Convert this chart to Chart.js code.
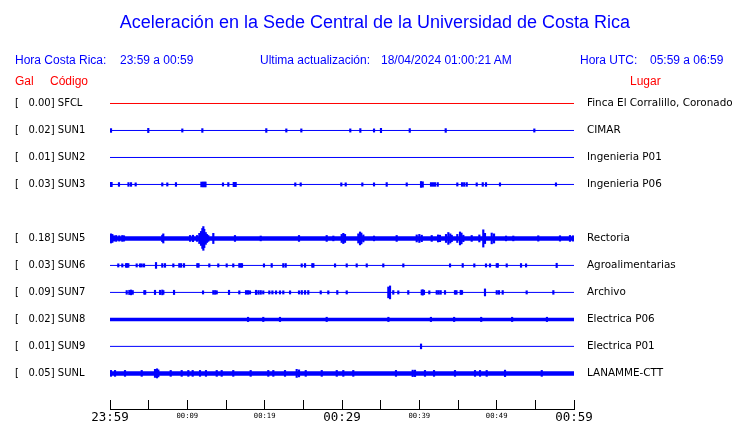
<!DOCTYPE html>
<html>
<head>
<meta charset="utf-8">
<script src="https://cdn.jsdelivr.net/npm/chart.js@4/dist/chart.umd.min.js"></script>
<style>
  body { margin: 0; background: #fff; width: 740px; height: 423px; overflow: hidden; position: relative;
         font-family: "Liberation Sans", Arial, sans-serif; }
  #wrap { position: absolute; left: 0; top: 0; width: 740px; height: 423px; }
  .t { position: absolute; white-space: nowrap; line-height: 1; }
  .blue { color: #0000ff; font-size: 12px; }
  .red { color: #ff0000; font-size: 12px; }
</style>
</head>
<body>
<div id="wrap"><canvas id="sismo"></canvas></div>

<div class="t" style="left:0;width:750px;text-align:center;top:13px;font-size:18px;color:#0000ff">Aceleración en la Sede Central de la Universidad de Costa Rica</div>
<div class="t blue" style="left:15px;top:54px">Hora Costa Rica:</div>
<div class="t blue" style="left:120px;top:54px">23:59 a 00:59</div>
<div class="t blue" style="left:260px;top:54px">Ultima actualización:</div>
<div class="t blue" style="left:381px;top:54px">18/04/2024 01:00:21 AM</div>
<div class="t blue" style="left:580px;top:54px">Hora UTC:</div>
<div class="t blue" style="left:650px;top:54px">05:59 a 06:59</div>
<div class="t red" style="left:15px;top:75px">Gal</div>
<div class="t red" style="left:50px;top:75px">Código</div>
<div class="t red" style="left:630px;top:75px">Lugar</div>

<script>
// estaciones (la fila 4 queda vacia: SUN4 no reporta)
const codes  = ['SFCL', 'SUN1', 'SUN2', 'SUN3', 'SUN5', 'SUN6', 'SUN7', 'SUN8', 'SUN9', 'SUNL'];
const rows   = [0, 1, 2, 3, 5, 6, 7, 8, 9, 10];
const peakGal = [0.00, 0.02, 0.01, 0.03, 0.18, 0.03, 0.09, 0.02, 0.01, 0.05];
const places = ['Finca El Corralillo, Coronado', 'CIMAR', 'Ingenieria P01', 'Ingenieria P06', 'Rectoria',
                'Agroalimentarias', 'Archivo', 'Electrica P06', 'Electrica P01', 'LANAMME-CTT'];

// eje de tiempo: minutos desde 23:59
const timeLabels = ['23:59', '00:09', '00:19', '00:29', '00:39', '00:49', '00:59'];
const bigLabels = ['23:59', '00:29', '00:59'];

// picos de cada traza: [minuto, semi-amplitud (fraccion del espacio entre filas)]
const sfcl = [];
const sun1 = [[0.13,0.07],[4.95,0.08],[9.35,0.06],[11.94,0.07],[20.21,0.07],[22.80,0.06],[24.74,0.06],
  [31.07,0.06],[32.37,0.07],[34.14,0.06],[35.04,0.08],[38.76,0.07],[43.41,0.07],[54.87,0.06]];
const sun2 = [];
const sun3 = [[0.13,0.08],[0.2,0.08],[1.16,0.07],[2.39,0.07],[2.72,0.07],[3.32,0.06],[6.76,0.06],[7.41,0.06],
  [8.53,0.07],[11.82,0.09],[12.03,0.09],[12.22,0.09],[12.35,0.09],[14.61,0.06],[15.30,0.07],[16.00,0.08],
  [16.16,0.08],[16.25,0.08],[23.96,0.06],[24.66,0.06],[29.91,0.06],[30.48,0.06],[32.63,0.06],[34.14,0.06],
  [35.78,0.07],[38.37,0.06],[40.22,0.11],[40.44,0.1],[41.51,0.07],[41.77,0.07],[42.03,0.07],[42.38,0.07],
  [44.91,0.06],[45.52,0.07],[45.8,0.07],[46.13,0.07],[47.42,0.06],[48.20,0.07],[48.62,0.07],[50.43,0.06],[57.67,0.06]];
const sun5 = [[0.0,0.15],[0.13,0.17],[0.3,0.15],[0.52,0.1],[0.8,0.11],[1.2,0.1],[1.59,0.11],[1.81,0.1],
  [6.76,0.12],[6.89,0.17],[10.35,0.11],[10.73,0.12],[11.25,0.11],[11.55,0.19],[11.77,0.26],[11.94,0.37],
  [12.07,0.44],[12.19,0.34],[12.38,0.22],[12.54,0.15],[12.71,0.11],[13.36,0.19],[16.16,0.11],[19.49,0.09],
  [24.44,0.11],[28.02,0.11],[28.88,0.09],[29.96,0.15],[30.17,0.19],[30.39,0.15],[32.11,0.17],[32.33,0.24],
  [32.5,0.2],[32.76,0.13],[34.14,0.09],[37.07,0.11],[39.66,0.13],[40.0,0.15],[40.31,0.12],[41.60,0.11],
  [42.42,0.13],[42.67,0.12],[43.45,0.15],[43.75,0.22],[44.0,0.17],[44.19,0.12],[44.91,0.15],[45.26,0.24],
  [45.45,0.2],[45.69,0.12],[46.77,0.11],[47.76,0.13],[48.27,0.32],[48.49,0.19],[49.36,0.2],[49.66,0.17],
  [51.21,0.09],[52.15,0.09],[55.38,0.1],[58.19,0.1],[59.48,0.11],[59.87,0.1]];
const sun6 = [[1.07,0.06],[1.59,0.06],[2.07,0.07],[2.2,0.07],[2.37,0.07],[3.45,0.06],[3.88,0.06],[4.1,0.06],
  [4.4,0.06],[5.95,0.11],[6.76,0.07],[7.11,0.07],[8.19,0.06],[8.96,0.07],[9.2,0.07],[9.57,0.07],[11.29,0.07],
  [11.45,0.07],[12.84,0.06],[14.0,0.06],[15.09,0.06],[15.94,0.06],[16.72,0.07],[16.9,0.07],[17.07,0.07],
  [19.91,0.06],[20.91,0.07],[22.41,0.07],[22.72,0.07],[24.79,0.06],[25.22,0.07],[26.16,0.07],[26.3,0.07],
  [29.10,0.06],[30.61,0.06],[31.90,0.06],[33.20,0.06],[35.34,0.06],[37.93,0.06],[43.97,0.06],[45.61,0.07],
  [47.11,0.06],[48.62,0.06],[49.14,0.06],[50.01,0.07],[50.15,0.07],[51.30,0.06],[53.15,0.07],[53.80,0.06],[57.76,0.08]];
const sun7 = [[2.16,0.07],[2.5,0.08],[2.72,0.09],[2.94,0.07],[4.44,0.07],[4.55,0.07],[5.82,0.08],[6.47,0.08],
  [6.76,0.09],[6.9,0.07],[8.28,0.08],[12.03,0.06],[13.36,0.07],[13.6,0.07],[13.80,0.06],[15.39,0.08],
  [16.72,0.06],[17.59,0.07],[17.85,0.07],[18.10,0.06],[18.88,0.08],[19.2,0.07],[19.49,0.07],[19.82,0.06],
  [20.60,0.06],[21.0,0.06],[21.47,0.06],[21.98,0.06],[22.41,0.06],[23.28,0.06],[24.44,0.06],[24.8,0.07],
  [25.22,0.07],[25.64,0.07],[27.25,0.06],[28.23,0.06],[29.39,0.07],[30.61,0.06],[35.99,0.2],[36.21,0.24],
  [36.63,0.07],[37.28,0.06],[38.57,0.07],[40.31,0.09],[40.44,0.1],[40.60,0.08],[41.29,0.06],[42.25,0.07],
  [42.5,0.07],[42.76,0.07],[43.32,0.07],[44.61,0.07],[44.8,0.07],[45.35,0.08],[45.52,0.07],[48.49,0.13],
  [50.01,0.07],[50.3,0.07],[50.78,0.07],[53.88,0.06],[57.33,0.07]];
const sun8 = [[17.85,0.08],[19.82,0.08],[21.98,0.08],[28.02,0.08],[36.0,0.08],[41.5,0.08],[44.5,0.08],
  [48.0,0.08],[52.0,0.08],[56.5,0.08]];
const sun9 = [[40.22,0.09]];
const sunl = [[0.13,0.11],[0.65,0.11],[1.94,0.11],[4.10,0.11],[5.82,0.15],[6.08,0.17],[6.25,0.13],[7.85,0.11],
  [9.27,0.11],[10.13,0.11],[10.69,0.11],[11.64,0.11],[12.41,0.11],[13.80,0.11],[14.44,0.11],[15.94,0.11],
  [18.19,0.11],[20.47,0.11],[21.12,0.11],[22.63,0.11],[24.14,0.15],[24.44,0.13],[25.31,0.11],[27.38,0.11],
  [29.32,0.11],[30.17,0.11],[31.46,0.11],[36.98,0.11],[39.14,0.12],[39.44,0.12],[40.73,0.11],[41.90,0.11],
  [44.61,0.11],[47.20,0.11],[47.85,0.11],[48.71,0.11],[51.08,0.12],[55.83,0.11]];
const traces = [sfcl, sun1, sun2, sun3, sun5, sun6, sun7, sun8, sun9, sunl];

// estilos de cada traza
const traceColor = codes.map(c => c === 'SFCL' ? '#ff0000' : '#0000ff');
const traceWidth = { SUN5: 4.5, SUN8: 3.5, SUNL: 4.5 };

const datasets = [];
codes.forEach((code, i) => {
  const row = rows[i];
  datasets.push({
    type: 'line',
    data: [{ x: 0, y: row }, { x: 60, y: row }],
    borderColor: traceColor[i],
    borderWidth: traceWidth[code] || 1,
    pointRadius: 0,
    yAxisID: 'y'
  });
  datasets.push({
    type: 'bar',
    data: traces[i].map(([t, a]) => ({ x: t, y: [row - a, row + a] })),
    backgroundColor: traceColor[i],
    borderWidth: 0,
    barThickness: 1.5,
    grouped: false,
    yAxisID: 'y'
  });
});

const rowIndex = v => rows.indexOf(v);
const leftLabel = v => {
  const i = rowIndex(v);
  return i < 0 ? '' : '[   ' + peakGal[i].toFixed(2) + '] ' + codes[i];
};
const rightLabel = v => {
  const i = rowIndex(v);
  return i < 0 ? '' : places[i];
};
const rowTicks = scale => { scale.ticks = rows.map(v => ({ value: v })); };

new Chart(document.getElementById('sismo'), {
  type: 'bar',
  data: { datasets },
  options: {
    responsive: true,
    maintainAspectRatio: false,
    animation: false,
    events: [],
    layout: { padding: { left: 15, right: 0, top: 90, bottom: 0 } },
    plugins: { legend: { display: false }, tooltip: { enabled: false }, title: { display: false } },
    scales: {
      x: {
        type: 'linear',
        min: 0,
        max: 60,
        offset: false,
        afterFit: s => { s.height = 14; },
        border: { display: true, color: '#000', width: 1 },
        grid: { offset: false, drawOnChartArea: false, drawTicks: true, tickLength: -9, color: '#000', lineWidth: 1 },
        ticks: {
          stepSize: 5,
          autoSkip: false,
          maxRotation: 0,
          padding: 10,
          color: '#000',
          callback: v => (v % 10 === 0 ? timeLabels[v / 10] : ''),
          font: ctx => {
            const lbl = ctx.tick && ctx.tick.value % 10 === 0 ? timeLabels[ctx.tick.value / 10] : '';
            return bigLabels.includes(lbl)
              ? { family: '"DejaVu Sans Mono", monospace', size: 12.5, lineHeight: 1.2 }
              : { family: '"DejaVu Sans Mono", monospace', size: 7.2, lineHeight: 1.8 };
          }
        }
      },
      y: {
        type: 'linear',
        position: 'left',
        reverse: true,
        min: -0.5,
        max: 11.32,
        afterFit: s => { s.width = 95; },
        afterBuildTicks: rowTicks,
        border: { display: false },
        grid: { display: false, drawTicks: false },
        ticks: { crossAlign: 'far', padding: 0, color: '#000',
                 font: { family: '"DejaVu Sans", sans-serif', size: 10 }, callback: leftLabel }
      },
      yR: {
        type: 'linear',
        position: 'right',
        reverse: true,
        min: -0.5,
        max: 11.32,
        afterFit: s => { s.width = 166; },
        afterBuildTicks: rowTicks,
        border: { display: false },
        grid: { display: false, drawTicks: true, tickLength: 13 },
        ticks: { padding: 0, color: '#000',
                 font: { family: '"DejaVu Sans", sans-serif', size: 10.4 }, callback: rightLabel }
      }
    }
  }
});
</script>
</body>
</html>
